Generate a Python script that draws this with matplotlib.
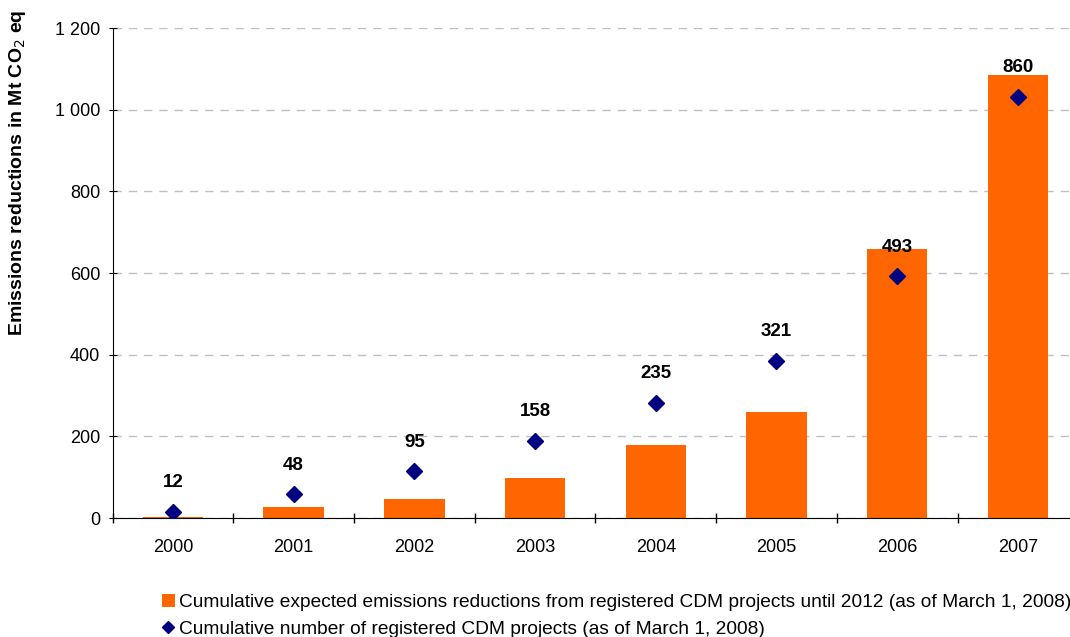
import matplotlib.pyplot as plt
import matplotlib.ticker as mticker
from matplotlib.lines import Line2D
from matplotlib.patches import Patch

plt.rcParams['font.family'] = ['Liberation Sans', 'DejaVu Sans']

years = ['2000', '2001', '2002', '2003', '2004', '2005', '2006', '2007']
reductions = [3, 27, 47, 99, 180, 260, 660, 1085]
projects = [12, 48, 95, 158, 235, 321, 493, 860]

fig = plt.figure(figsize=(10.7, 6.37), dpi=100)
ax = fig.add_axes([0.1052, 0.1868, 0.9025, 0.7692])

x = range(len(years))
ax.bar(x, reductions, width=0.5, color='#FF6600', zorder=2)
ax.set_xlim(-0.5, len(years) - 0.5)
ax.set_ylim(0, 1200)

# secondary scale for project count (hidden)
ax2 = ax.twinx()
ax2.set_ylim(0, 1000)
ax2.plot(x, projects, linestyle='none', marker='D', markersize=8,
         color='#000080', zorder=3)
for i, p in enumerate(projects):
    ax2.annotate(str(p), (i, p), xytext=(0, 21), textcoords='offset points',
                 ha='center', va='center', fontsize=13.5, fontweight='bold')
ax2.axis('off')

ax.yaxis.set_major_locator(mticker.MultipleLocator(200))
ax.yaxis.set_major_formatter(mticker.FuncFormatter(
    lambda v, pos: '{:,.0f}'.format(v).replace(',', ' ')))
ax.grid(axis='y', linestyle=(0, (6, 5)), color='#c0c0c0', linewidth=1, zorder=0)
ax.set_axisbelow(True)

ax.set_xticks(list(x))
ax.set_xticklabels(years)
ax.set_xticks([i + 0.5 for i in range(-1, len(years))], minor=True)
ax.tick_params(axis='x', which='major', length=0, pad=15, labelsize=13)
ax.tick_params(axis='x', which='minor', length=7, width=1, direction='inout')
ax.tick_params(axis='y', length=6, direction='inout', labelsize=13, pad=6)

for s in ['top', 'right']:
    ax.spines[s].set_visible(False)

ax.set_ylabel('Emissions reductions in Mt CO$_2$ eq', fontsize=14,
              fontweight='bold')
ax.yaxis.set_label_coords(-0.088, 1.037, transform=ax.transAxes)
ax.yaxis.label.set_ha('right')

handles = [Patch(facecolor='#FF6600', edgecolor='none'),
           Line2D([], [], linestyle='none', marker='D', markersize=6, color='#000080')]
labels = ['Cumulative expected emissions reductions from registered CDM projects until 2012 (as of March 1, 2008)',
          'Cumulative number of registered CDM projects (as of March 1, 2008)']
fig.legend(handles, labels, loc='upper left', bbox_to_anchor=(0.142, 0.083),
           frameon=False, fontsize=13.8, handlelength=0.7, handletextpad=0.2,
           labelspacing=0.5, borderpad=0)

fig.savefig('out.png', dpi=100)
